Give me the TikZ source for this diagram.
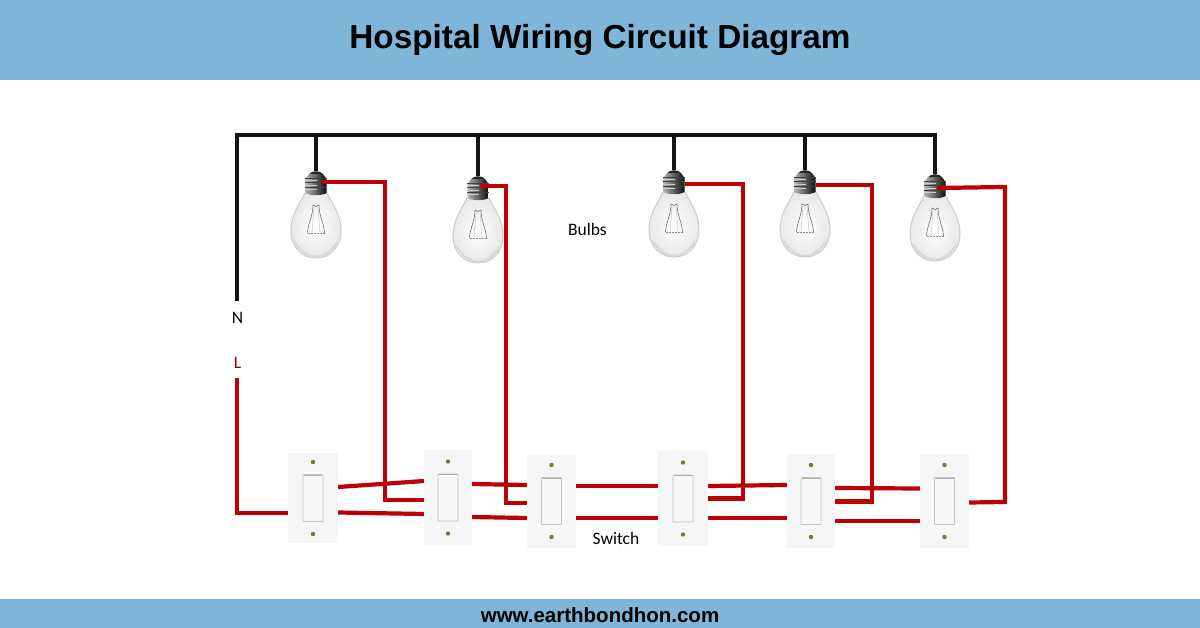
\documentclass[tikz,border=0pt]{standalone}
\usepackage{fontspec}
\usetikzlibrary{backgrounds}
\setmainfont{Liberation Sans}
\newfontfamily\labelfont{Carlito}
\definecolor{barblue}{HTML}{7FB5D8}
\definecolor{wirered}{HTML}{BC0006}
\definecolor{platewhite}{HTML}{F6F6F6}
\tikzset{
  neutralwire/.style={draw=black!92,line width=4pt,line join=miter},
  livewire/.style={draw=wirered,line width=4.2pt,line join=miter},
  smalllabel/.style={font=\labelfont\fontsize{17.5}{20}\selectfont,inner sep=0pt},
  switchplate/.style={fill=platewhite,inner sep=0pt,outer sep=0pt,minimum width=49pt,minimum height=93pt},
  pics/bulb/.style={code={
    % glass
    \path[draw=black!20,line width=1pt,inner color=white,outer color=black!9]
      (-11,22) .. controls (-16,33) and (-25,43) .. (-25,60)
      .. controls (-25,76) and (-14,87) .. (0,87)
      .. controls (14,87) and (25,76) .. (25,60)
      .. controls (25,43) and (16,33) .. (11,22) -- cycle;
    % rim shade
    \draw[black!16,line width=1.6pt,line cap=round]
      (-21,71) .. controls (-15,81) and (-7,85.5) .. (0,85.5)
      .. controls (7,85.5) and (15,81) .. (21,71);
    % stem
    \fill[black!7] (-5,23) rectangle (5,35);
    % filament
    \draw[black!60,line width=.55pt]
      (-3,34) .. controls (-3,45) and (-8,52) .. (-8.5,62);
    \draw[black!60,line width=.55pt]
      (3,34) .. controls (3,45) and (8,52) .. (8.5,62);
    \draw[black!45,line width=.5pt,dash pattern=on 2pt off 1pt] (-8.5,62) -- (8.5,62);
    \draw[black!25,line width=.4pt] (-2,36) -- (-4,62) (2,36) -- (4,62);
    \draw[black!60,line width=.5pt] (-3,34) .. controls (-1,36) and (1,36) .. (3,34);
    % socket
    \path[left color=black!30,middle color=black!65,right color=black!95]
      (-10.5,8) -- (-7,3) .. controls (-4,-.5) and (4,-.5) .. (7,3) -- (10.5,8) -- (10.5,22)
      .. controls (5,25) and (-5,25) .. (-10.5,22) -- cycle;
    \fill[black!85] (-6.5,3) .. controls (-4,-.5) and (4,-.5) .. (6.5,3) -- cycle;
    \foreach \ty in {7.5,12,16.5}{
      \draw[black!75,line width=1pt] (-11,\ty) -- (10.5,\ty);
    }
    \foreach \ty in {10,14.5,19}{
      \draw[white!80!black,line width=1pt] (-11,\ty) -- (1,\ty);
    }
  }},
  pics/rocker/.style={code={
    \fill[black!3,draw=black!24,line width=.8pt,rounded corners=.6pt] (-10,-23.5) rectangle (10,23.5);
    \draw[black!32,line width=1pt] (-9,-23) -- (9,-23);
    \fill[olive!60!black!85] (0,-36) circle (2.2pt);
    \fill[olive!60!black!85] (0,36) circle (2.2pt);
  }}
}
\begin{document}
\begin{tikzpicture}[x=1pt,y=-1pt]
\useasboundingbox (0,0) rectangle (1200,628);
% named points
\coordinate (n0) at (237,301);
\coordinate (n1) at (237,135);
\coordinate (n2) at (935,135);
\coordinate (l0) at (237,378);
\coordinate (b1) at (316,171);
\coordinate (b2) at (478,176);
\coordinate (b3) at (674,170);
\coordinate (b4) at (805,170);
\coordinate (b5) at (935,174);
% switch plates
\node[switchplate,minimum width=50pt,minimum height=90pt] (s1) at (313,498) {};
\node[switchplate,minimum width=48pt,minimum height=95pt] (s2) at (448,497.5) {};
\node[switchplate] (s3) at (551.5,501) {};
\node[switchplate,minimum width=50pt,minimum height=95pt] (s4) at (683,498.5) {};
\node[switchplate,minimum width=48pt,minimum height=94pt] (s5) at (811,501) {};
\node[switchplate,minimum width=49pt,minimum height=94pt] (s6) at (944.5,501) {};
\foreach \sw in {s1,s2,s3,s4,s5,s6}{\pic at (\sw) {rocker};}
\begin{pgfonlayer}{background}
\fill[white] (0,0) rectangle (1200,628);
\fill[barblue] (0,0) rectangle (1200,80);
\fill[barblue] (0,599) rectangle (1200,628);
% neutral
\draw[neutralwire] (n0) -- (n1) -- (n2) -- (b5);
\draw[neutralwire] (b1 |- n1) -- (b1);
\draw[neutralwire] (b2 |- n1) -- (b2);
\draw[neutralwire] (b3 |- n1) -- (b3);
\draw[neutralwire] (b4 |- n1) -- (b4);
% bulbs
\pic at (b1) {bulb};
\pic at (b2) {bulb};
\pic at (b3) {bulb};
\pic at (b4) {bulb};
\pic at (b5) {bulb};
% live
\draw[livewire] (l0) -- (237,513) -- ([yshift=-15pt]s1.west);
\draw[livewire] ([yshift=11pt]s1.east) -- ([yshift=16.5pt]s2.west);
\draw[livewire] ([yshift=-14.5pt]s1.east) -- ([yshift=-16.5pt]s2.west);
\draw[livewire] ([yshift=13.5pt]s2.east) -- ([yshift=16pt]s3.west);
\draw[livewire] ([yshift=-19.5pt]s2.east) -- ([yshift=-17pt]s3.west);
\draw[livewire] ([yshift=15pt]s3.east) -- ([yshift=12.5pt]s4.west);
\draw[livewire] ([yshift=-17pt]s3.east) -- ([yshift=-19.5pt]s4.west);
\draw[livewire] ([yshift=12.5pt]s4.east) -- ([yshift=16pt]s5.west);
\draw[livewire] ([yshift=-19.5pt]s4.east) -- ([yshift=-17pt]s5.west);
\draw[livewire] ([yshift=13pt]s5.east) -- ([yshift=12.5pt]s6.west);
\draw[livewire] ([yshift=-20pt]s5.east) -- ([yshift=-20pt]s6.west);
% bulb feeds
\draw[livewire] ([shift={(6pt,-11pt)}]b1) -- (385,182) -- (385,500) -- ([yshift=-2.5pt]s2.west);
\draw[livewire] ([shift={(2pt,-10pt)}]b2) -- (506,186) -- (506,503) -- ([yshift=-2pt]s3.west);
\draw[livewire] ([shift={(11pt,-14pt)}]b3) -- (743,184) -- (743,498.5) -- (s4.east);
\draw[livewire] ([shift={(11pt,-15pt)}]b4) -- (872,185) -- (872,501.5) -- ([yshift=-.5pt]s5.east);
\draw[livewire] ([shift={(2pt,-14pt)}]b5) -- (1005,187) -- (1005,502) -- ([yshift=-1.5pt]s6.east);
\end{pgfonlayer}
% text
\node[inner sep=0pt,font=\bfseries\fontsize{33.3}{38}\selectfont] (title) at (600,40) {Hospital Wiring Circuit Diagram};
\node[inner sep=0pt,font=\bfseries\fontsize{20.5}{24}\selectfont] (footer) at (600,615) {www.earthbondhon.com};
\node[smalllabel] (lbn) at (237.5,318) {N};
\node[smalllabel,text=wirered!75!black] (lbl) at (237.5,362.5) {L};
\node[smalllabel] (lbb) at (587.5,229.5) {Bulbs};
\node[smalllabel] (lbs) at (616,538.5) {Switch};
\end{tikzpicture}
\end{document}
